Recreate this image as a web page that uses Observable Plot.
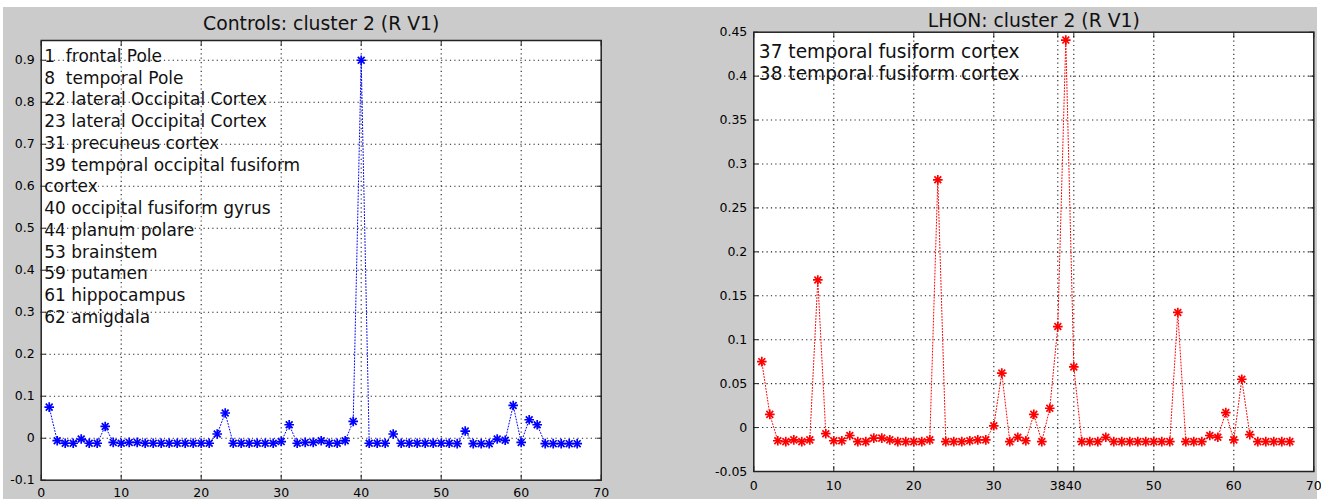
<!DOCTYPE html>
<html>
<head>
<meta charset="utf-8">
<script src="https://cdn.jsdelivr.net/npm/d3@7"></script>
<script src="https://cdn.jsdelivr.net/npm/@observablehq/plot@0.6"></script>
<style>
  html, body { margin: 0; padding: 0; background: #ffffff; }
  #wrap { position: relative; width: 1321px; height: 499px; overflow: hidden; background: #ffffff; }
  #bg { position: absolute; left: 3px; top: 7px; width: 1314px; height: 492px; background: #cbcbcb; }
  .panel { position: absolute; top: 0; }
  .panel svg text { white-space: pre; }
</style>
</head>
<body>
<div id="wrap">
  <div id="bg"></div>
  <div class="panel" id="left" style="left:0px"></div>
  <div class="panel" id="right" style="left:660px"></div>
</div>
<script>
// ---- Data ----
const titleControls = "Controls: cluster 2 (R V1)";
const titleLHON = "LHON: cluster 2 (R V1)";

const controlsValues = [
  0.074, -0.006, -0.012, -0.012, -0.002, -0.012, -0.012, 0.028, -0.010, -0.012,
  -0.010, -0.010, -0.012, -0.012, -0.012, -0.012, -0.012, -0.012, -0.012, -0.012,
  -0.012, 0.010, 0.060, -0.012, -0.012, -0.012, -0.012, -0.012, -0.012, -0.008,
  0.032, -0.012, -0.010, -0.010, -0.006, -0.012, -0.012, -0.006, 0.040, 0.900,
  -0.012, -0.012, -0.012, 0.010, -0.012, -0.012, -0.012, -0.012, -0.012, -0.012,
  -0.012, -0.013, 0.017, -0.013, -0.013, -0.013, -0.002, -0.005, 0.078, -0.010,
  0.044, 0.032, -0.013, -0.013, -0.013, -0.013, -0.013
];

const lhonValues = [
  0.075, 0.015, -0.015, -0.016, -0.014, -0.016, -0.014, 0.168, -0.007, -0.015,
  -0.015, -0.009, -0.016, -0.016, -0.012, -0.012, -0.014, -0.016, -0.016, -0.016,
  -0.016, -0.014, 0.282, -0.016, -0.016, -0.016, -0.015, -0.014, -0.014, 0.002,
  0.062, -0.016, -0.011, -0.015, 0.015, -0.016, 0.022, 0.115, 0.441, 0.069,
  -0.016, -0.016, -0.016, -0.011, -0.016, -0.016, -0.016, -0.016, -0.016, -0.016,
  -0.016, -0.016, 0.131, -0.016, -0.016, -0.016, -0.009, -0.011, 0.017, -0.014,
  0.055, -0.008, -0.016, -0.016, -0.016, -0.016, -0.016
];

const regionsControls = [
  "1  frontal Pole",
  "8  temporal Pole",
  "22 lateral Occipital Cortex",
  "23 lateral Occipital Cortex",
  "31 precuneus cortex",
  "39 temporal occipital fusiform",
  "cortex",
  "40 occipital fusiform gyrus",
  "44 planum polare",
  "53 brainstem",
  "59 putamen",
  "61 hippocampus",
  "62 amigdala"
];
const regionsLHON = [
  "37 temporal fusiform cortex",
  "38 temporal fusiform cortex"
];

const xTicksControls = [0, 10, 20, 30, 40, 50, 60, 70];
const yTicksControls = [-0.1, 0, 0.1, 0.2, 0.3, 0.4, 0.5, 0.6, 0.7, 0.8, 0.9];
const xTicksLHON = [0, 10, 20, 30, 38, 40, 50, 60, 70];
const yTicksLHON = [-0.05, 0, 0.05, 0.1, 0.15, 0.2, 0.25, 0.3, 0.35, 0.4, 0.45];

// ---- Drawing ----
const FONT = "DejaVu Sans, sans-serif";

function panel(cfg) {
  const data = cfg.values.map((v, i) => ({x: i + 1, y: v}));
  const gridX = cfg.xTicks.filter(t => t > cfg.xDomain[0] && t < cfg.xDomain[1]);
  const gridY = cfg.yTicks.filter(t => t > cfg.yDomain[0] && t < cfg.yDomain[1]);
  const fmt = d => String(d);
  return Plot.plot({
    width: cfg.width,
    height: 499,
    marginLeft: cfg.marginLeft,
    marginRight: cfg.marginRight,
    marginTop: cfg.marginTop,
    marginBottom: cfg.marginBottom,
    style: {background: "transparent", fontFamily: FONT, color: "black", overflow: "visible"},
    x: {domain: cfg.xDomain, label: null},
    y: {domain: cfg.yDomain, label: null},
    marks: [
      Plot.frame({fill: "white", stroke: null}),
      Plot.gridX(gridX, {stroke: "#222", strokeOpacity: 1, strokeWidth: 1.1, strokeDasharray: "1.2,3.2"}),
      Plot.gridY(gridY, {stroke: "#222", strokeOpacity: 1, strokeWidth: 1.1, strokeDasharray: "1.2,3.2"}),
      Plot.text([cfg.labels.join("\n")], {
        text: d => d, frameAnchor: "top-left", textAnchor: "start", lineAnchor: "top",
        dx: cfg.labelDx, dy: cfg.labelDy, fontSize: cfg.labelSize, lineHeight: cfg.labelLineHeight,
        fill: "#111", fontFamily: FONT
      }),
      Plot.line(data, {x: "x", y: "y", stroke: cfg.color, strokeWidth: 1, strokeDasharray: "1,2"}),
      Plot.dot(data, {x: "x", y: "y", symbol: "plus", r: 3.2, stroke: cfg.color, strokeWidth: 1.7}),
      Plot.dot(data, {x: "x", y: "y", symbol: "times", r: 3.2, stroke: cfg.color, strokeWidth: 1.7}),
      Plot.frame({stroke: "#222", strokeWidth: 1.5}),
      Plot.axisY(cfg.yTicks, {anchor: "left", tickSize: 5, dx: 5, tickPadding: 6.5, tickFormat: fmt, fontSize: 12.5, stroke: "#222"}),
      Plot.axisY(cfg.yTicks, {anchor: "right", tickSize: 5, dx: -5, tickFormat: () => "", stroke: "#222"}),
      Plot.axisX(cfg.xTicks, {anchor: "bottom", tickSize: 5, dy: -5, tickPadding: cfg.xPad, tickFormat: fmt, fontSize: 12.5, stroke: "#222"}),
      Plot.axisX(cfg.xTicks, {anchor: "top", tickSize: 5, dy: 5, tickFormat: () => "", stroke: "#222"}),
      Plot.text([cfg.title], {
        text: d => d, frameAnchor: "top", lineAnchor: "middle", dy: cfg.titleDy,
        fontSize: 18.8, fill: "#111", fontFamily: FONT
      })
    ]
  });
}

document.getElementById("left").appendChild(panel({
  width: 660, marginLeft: 40.7, marginRight: 59.3, marginTop: 40, marginBottom: 19.3,
  xDomain: [0, 70], yDomain: [-0.1, 0.947],
  xTicks: xTicksControls, yTicks: yTicksControls, xPad: 7.5,
  values: controlsValues, color: "#0000ff",
  labels: regionsControls, labelDx: 3, labelDy: 6, labelSize: 17, labelLineHeight: 21.75 / 17,
  title: titleControls, titleDy: -16.3
}));

document.getElementById("right").appendChild(panel({
  width: 661, marginLeft: 93.3, marginRight: 7.7, marginTop: 31.7, marginBottom: 28,
  xDomain: [0, 70], yDomain: [-0.05, 0.45],
  xTicks: xTicksLHON, yTicks: yTicksLHON, xPad: 9.5,
  values: lhonValues, color: "#ff0000",
  labels: regionsLHON, labelDx: 5, labelDy: 10.5, labelSize: 18.6, labelLineHeight: 21.7 / 18.6,
  title: titleLHON, titleDy: -11.2
}));
</script>
</body>
</html>
